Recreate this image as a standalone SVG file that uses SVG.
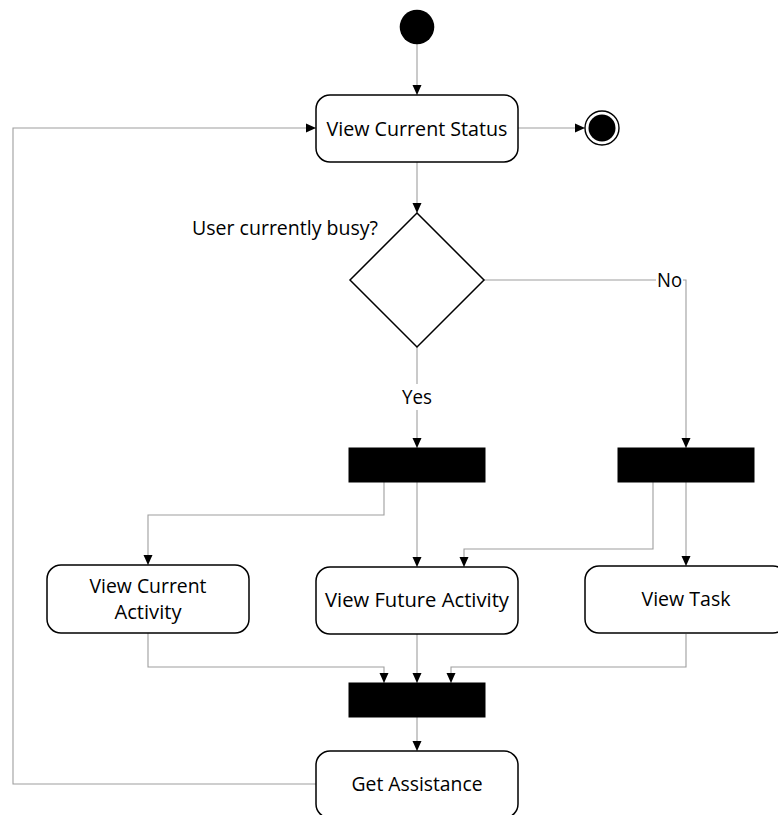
<svg xmlns="http://www.w3.org/2000/svg" width="778" height="815" viewBox="0 0 778 815">
<defs>
<style>
.conn{fill:none;stroke:#9e9e9e;stroke-width:1.1;}
.box{fill:#ffffff;stroke:#000000;stroke-width:1.5;}
.bar{fill:#000000;stroke:#000000;stroke-width:1;}
.t{font-family:"Open Sans","Liberation Sans",sans-serif;font-size:19.5px;fill:#000000;}
.c{text-anchor:middle;}
.lblbg{fill:#ffffff;stroke:none;}
</style>
<marker id="arr" markerUnits="userSpaceOnUse" markerWidth="10" markerHeight="10" refX="10" refY="5" orient="auto">
<path d="M0,0.5 L10,5 L0,9.5 Z" fill="#000000"/>
</marker>
</defs>
<rect width="778" height="815" fill="#ffffff"/>
<g id="connectors">
<path class="conn" d="M417,44 V95" marker-end="url(#arr)"/>
<path class="conn" d="M518,128 H585" marker-end="url(#arr)"/>
<path class="conn" d="M417,162 V213" marker-end="url(#arr)"/>
<path class="conn" d="M417,347 V448" marker-end="url(#arr)"/>
<path class="conn" d="M484,280 H686 V448" marker-end="url(#arr)"/>
<path class="conn" d="M384,482 V515 H148 V565" marker-end="url(#arr)"/>
<path class="conn" d="M417,482 V567" marker-end="url(#arr)"/>
<path class="conn" d="M653,482 V549 H464 V567" marker-end="url(#arr)"/>
<path class="conn" d="M686,482 V566" marker-end="url(#arr)"/>
<path class="conn" d="M148,633 V667 H384 V683" marker-end="url(#arr)"/>
<path class="conn" d="M417,634 V683" marker-end="url(#arr)"/>
<path class="conn" d="M686,634 V667 H451 V683" marker-end="url(#arr)"/>
<path class="conn" d="M417,717 V751" marker-end="url(#arr)"/>
<path class="conn" d="M316,784 H13 V128 H316" marker-end="url(#arr)"/>
<g id="label-yes">
<rect class="lblbg" x="399" y="384" width="36" height="26"/>
<text class="t c" x="417" y="404" textLength="30" lengthAdjust="spacingAndGlyphs">Yes</text>
</g>
<g id="label-no">
<rect class="lblbg" x="656" y="268" width="27" height="24"/>
<text class="t" x="657" y="287" textLength="25" lengthAdjust="spacingAndGlyphs">No</text>
</g>
</g>
<g id="start">
<circle cx="417" cy="27" r="17.3" fill="#000000"/>
</g>
<g id="view-current-status">
<rect class="box" x="316" y="95" width="202" height="67" rx="14" ry="14"/>
<text class="t c" x="417" y="135.5" textLength="181" lengthAdjust="spacingAndGlyphs">View Current Status</text>
</g>
<g id="end">
<circle cx="602" cy="128" r="17" fill="#ffffff" stroke="#000000" stroke-width="1.4"/>
<circle cx="602" cy="128" r="13.5" fill="#000000"/>
</g>
<g id="decision">
<polygon points="417,213 484,280 417,347 350,280" fill="#ffffff" stroke="#000000" stroke-width="1.5"/>
<text class="t" x="378" y="235" text-anchor="end" textLength="186" lengthAdjust="spacingAndGlyphs">User currently busy?</text>
</g>
<g id="fork-left">
<rect class="bar" x="349" y="448" width="136" height="34"/>
</g>
<g id="fork-right">
<rect class="bar" x="618" y="448" width="136" height="34"/>
</g>
<g id="view-current-activity">
<rect class="box" x="47" y="565" width="202" height="68" rx="14" ry="14"/>
<text class="t c" x="148" y="593" textLength="117" lengthAdjust="spacingAndGlyphs">View Current</text>
<text class="t c" x="148" y="619" textLength="67" lengthAdjust="spacingAndGlyphs">Activity</text>
</g>
<g id="view-future-activity">
<rect class="box" x="316" y="567" width="202" height="67" rx="14" ry="14"/>
<text class="t c" x="417" y="606.5" textLength="184" lengthAdjust="spacingAndGlyphs">View Future Activity</text>
</g>
<g id="view-task">
<rect class="box" x="585" y="566" width="202" height="67" rx="14" ry="14"/>
<text class="t c" x="686" y="606" textLength="89" lengthAdjust="spacingAndGlyphs">View Task</text>
</g>
<g id="join">
<rect class="bar" x="349" y="683" width="136" height="34"/>
</g>
<g id="get-assistance">
<rect class="box" x="316" y="751" width="202" height="67" rx="14" ry="14"/>
<text class="t c" x="417" y="791" textLength="131" lengthAdjust="spacingAndGlyphs">Get Assistance</text>
</g>
</svg>
